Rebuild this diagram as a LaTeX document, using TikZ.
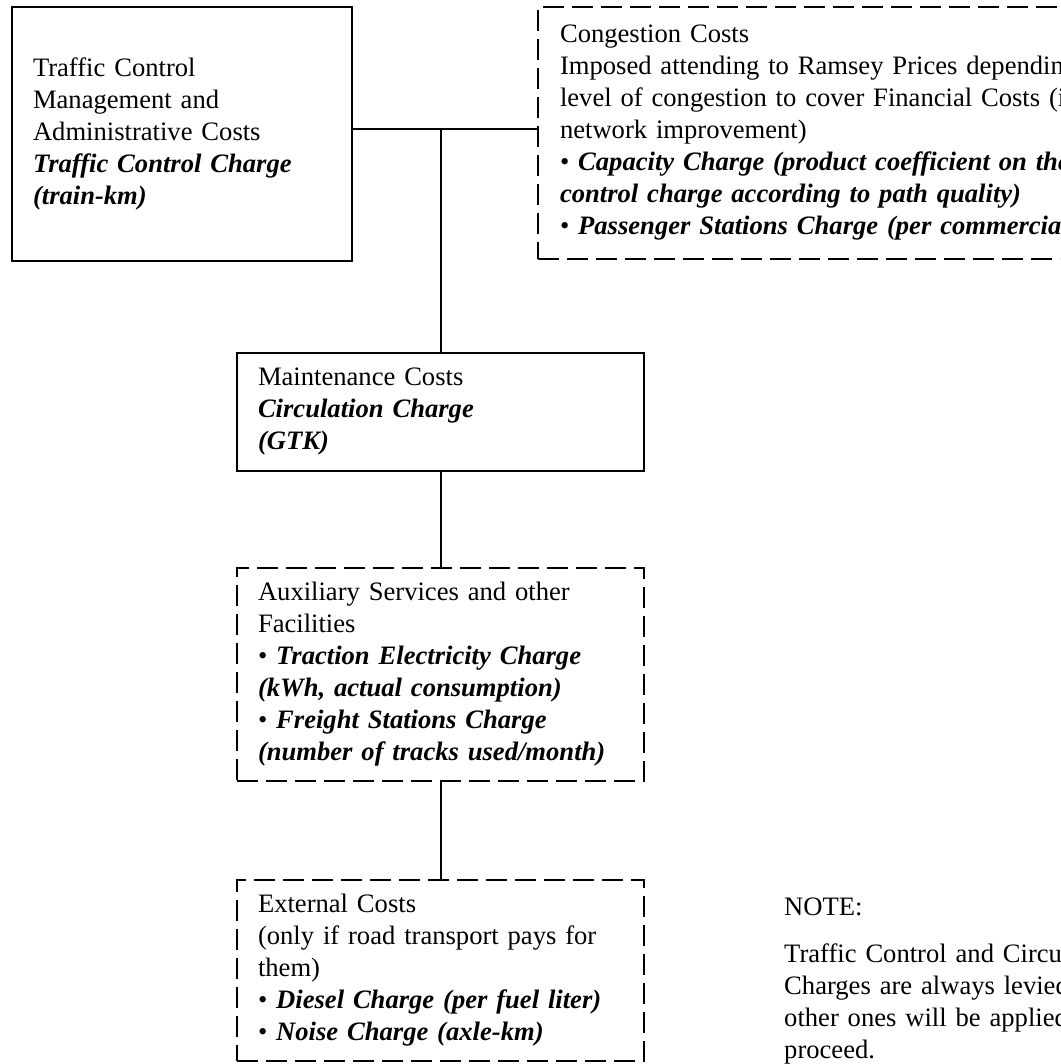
\documentclass[tikz,border=0pt]{standalone}
\usepackage{fontspec}
\setmainfont{Liberation Serif}
\newcommand\diagfont{\fontsize{26.6}{32}\selectfont}
\newcommand\chg[1]{\textbf{\textit{#1}}}
\begin{document}
\begin{tikzpicture}[x=1pt,y=-1pt,
  solidbox/.style={draw,line width=2.8pt,anchor=north west,outer sep=0pt,
    inner xsep=21pt,inner ysep=0pt,align=left,font=\diagfont},
  dashbox/.style={solidbox,line width=2.7pt,dash pattern=on 21pt off 8pt},
  link/.style={line width=2pt},
  notetext/.style={anchor=base west,inner sep=0pt,align=left,text width=420pt,font=\diagfont}]
\useasboundingbox (0,0) rectangle (1060,1064);
\clip (0,0) rectangle (1060,1064);
\fill[white] (0,0) rectangle (1060,1064);

\node[solidbox,text width=298pt,minimum width=340pt,minimum height=254pt] (tc) at (12,7)
  {Traffic Control\\ Management and\\ Administrative Costs\\ \chg{Traffic Control Charge}\\ \chg{(train-km)}};

\node[dashbox,text width=800pt,minimum width=844pt,minimum height=252pt] (cong) at (538,7)
  {Congestion Costs\\
   Imposed attending to Ramsey Prices depending on the\\
   level of congestion to cover Financial Costs (infrastructure\\
   network improvement)\\
   • \chg{Capacity Charge (product coefficient on the traffic}\\
   \chg{control charge according to path quality)}\\
   • \chg{Passenger Stations Charge (per commercial stop)}};

\node[solidbox,text width=365pt,minimum width=407pt,minimum height=118pt] (mc) at (237,353)
  {Maintenance Costs\\ \chg{Circulation Charge}\\ \chg{(GTK)}};

\node[dashbox,text width=365pt,minimum width=407pt,minimum height=213pt] (aux) at (237,568)
  {Auxiliary Services and other\\ Facilities\\
   • \chg{Traction Electricity Charge}\\ \chg{(kWh, actual consumption)}\\
   • \chg{Freight Stations Charge}\\ \chg{(number of tracks used/month)}};

\node[dashbox,text width=365pt,minimum width=407pt,minimum height=181pt] (ext) at (237,880)
  {External Costs\\ (only if road transport pays for\\ them)\\
   • \chg{Diesel Charge (per fuel liter)}\\
   • \chg{Noise Charge (axle-km)}};

\node[notetext] (note) at (784,915)
  {NOTE:\\[15pt]
   Traffic Control and Circulation\\
   Charges are always levied, the\\
   other ones will be applied if they\\
   proceed.};

\coordinate (hl) at ([yshift=5pt]tc.east);
\draw[link] (hl) -- (hl -| cong.west);
\draw[link] (hl -| mc.north) -- (mc.north);
\draw[link] (mc.south) -- (aux.north);
\draw[link] (aux.south) -- (ext.north);
\end{tikzpicture}
\end{document}
